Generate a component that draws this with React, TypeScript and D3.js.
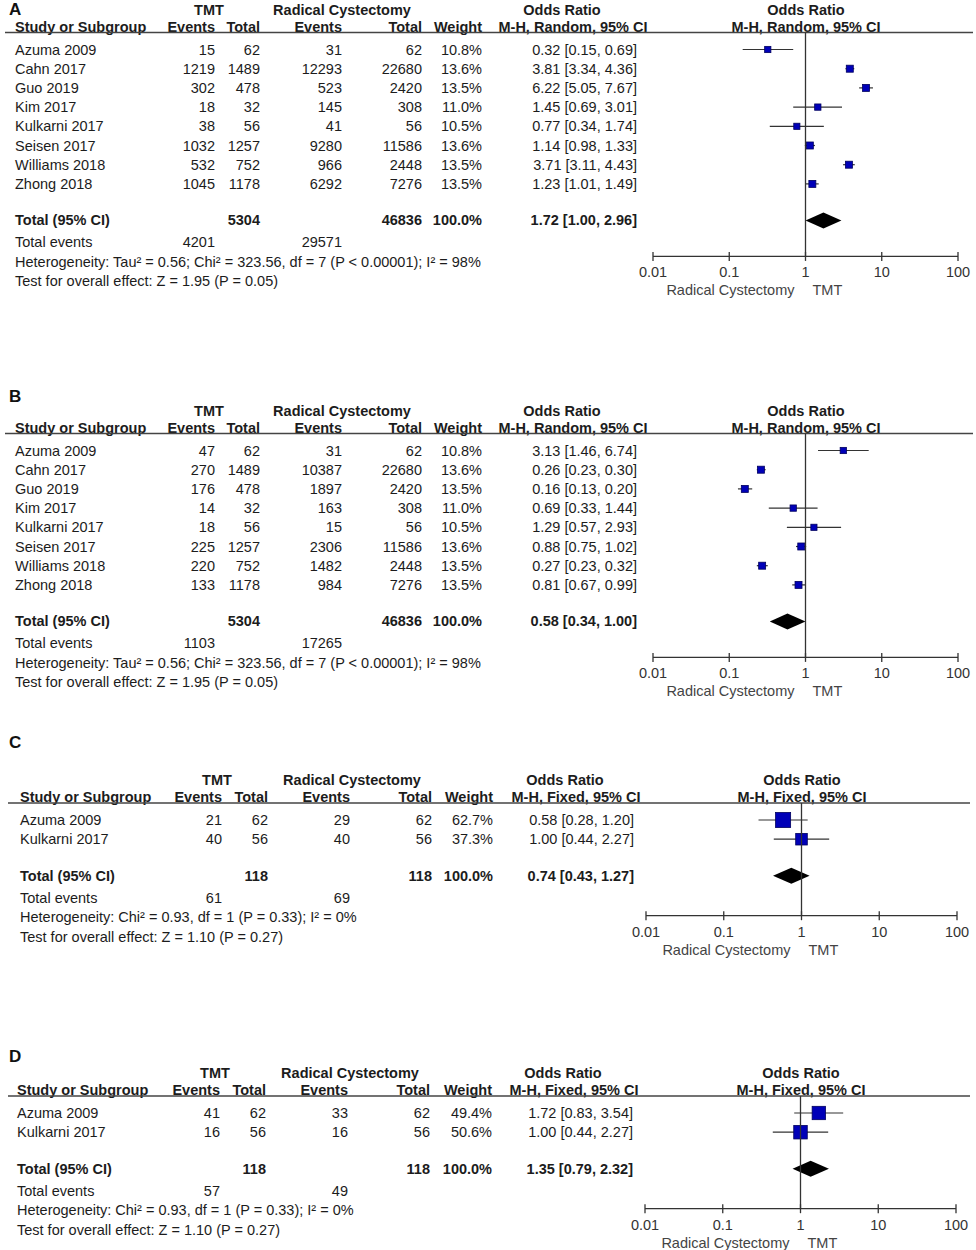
import React from 'react';
import * as d3 from 'd3';

// ---------- DATA ----------
const studiesAB = ["Azuma 2009", "Cahn 2017", "Guo 2019", "Kim 2017", "Kulkarni 2017", "Seisen 2017", "Williams 2018", "Zhong 2018"];
const tmtTotalAB = [62, 1489, 478, 32, 56, 1257, 752, 1178];
const rcTotalAB = [62, 22680, 2420, 308, 56, 11586, 2448, 7276];
const weightAB = [10.8, 13.6, 13.5, 11.0, 10.5, 13.6, 13.5, 13.5];

const tmtEventsA = [15, 1219, 302, 18, 38, 1032, 532, 1045];
const rcEventsA = [31, 12293, 523, 145, 41, 9280, 966, 6292];
const orA = [0.32, 3.81, 6.22, 1.45, 0.77, 1.14, 3.71, 1.23];
const loA = [0.15, 3.34, 5.05, 0.69, 0.34, 0.98, 3.11, 1.01];
const hiA = [0.69, 4.36, 7.67, 3.01, 1.74, 1.33, 4.43, 1.49];
const totalA = { tmt: 5304, rc: 46836, or: 1.72, lo: 1.00, hi: 2.96, tmtEv: 4201, rcEv: 29571 };

const tmtEventsB = [47, 270, 176, 14, 18, 225, 220, 133];
const rcEventsB = [31, 10387, 1897, 163, 15, 2306, 1482, 984];
const orB = [3.13, 0.26, 0.16, 0.69, 1.29, 0.88, 0.27, 0.81];
const loB = [1.46, 0.23, 0.13, 0.33, 0.57, 0.75, 0.23, 0.67];
const hiB = [6.74, 0.30, 0.20, 1.44, 2.93, 1.02, 0.32, 0.99];
const totalB = { tmt: 5304, rc: 46836, or: 0.58, lo: 0.34, hi: 1.00, tmtEv: 1103, rcEv: 17265 };

const studiesCD = ["Azuma 2009", "Kulkarni 2017"];
const tmtTotalCD = [62, 56];
const rcTotalCD = [62, 56];

const tmtEventsC = [21, 40];
const rcEventsC = [29, 40];
const weightC = [62.7, 37.3];
const orC = [0.58, 1.00];
const loC = [0.28, 0.44];
const hiC = [1.20, 2.27];
const totalC = { tmt: 118, rc: 118, or: 0.74, lo: 0.43, hi: 1.27, tmtEv: 61, rcEv: 69 };

const tmtEventsD = [41, 16];
const rcEventsD = [33, 16];
const weightD = [49.4, 50.6];
const orD = [1.72, 1.00];
const loD = [0.83, 0.44];
const hiD = [3.54, 2.27];
const totalD = { tmt: 118, rc: 118, or: 1.35, lo: 0.79, hi: 2.32, tmtEv: 57, rcEv: 49 };

const hetRandom = "Heterogeneity: Tau² = 0.56; Chi² = 323.56, df = 7 (P < 0.00001); I² = 98%";
const testRandom = "Test for overall effect: Z = 1.95 (P = 0.05)";
const hetFixed = "Heterogeneity: Chi² = 0.93, df = 1 (P = 0.33); I² = 0%";
const testFixed = "Test for overall effect: Z = 1.10 (P = 0.27)";
const methodRandom = "M-H, Random, 95% CI";
const methodFixed = "M-H, Fixed, 95% CI";

const tickValues = [0.01, 0.1, 1, 10, 100];
const tickLabels = ["0.01", "0.1", "1", "10", "100"];

// ---------- LAYOUT ----------
const layoutAB = { name: 15, te: 215, tt: 260, re: 342, rt: 422, w: 482, orc: 637, hTmt: 209, hRc: 342, hOr: 562, hCi: 573, hF: 806, fx0: 653, fx1: 958, lx0: 5, lx1: 973, axisOff: 36 };
const layoutC = { name: 20, te: 222, tt: 268, re: 350, rt: 432, w: 493, orc: 634, hTmt: 217, hRc: 352, hOr: 565, hCi: 576, hF: 802, fx0: 646, fx1: 957, lx0: 8, lx1: 970, axisOff: 40 };
const layoutD = { name: 17, te: 220, tt: 266, re: 348, rt: 430, w: 492, orc: 633, hTmt: 215, hRc: 350, hOr: 563, hCi: 574, hF: 801, fx0: 645, fx1: 956, lx0: 8, lx1: 970, axisOff: 40 };

const panels = [
  { label: "A", labelY: 15, line: 32.5, layout: layoutAB, method: methodRandom, studies: studiesAB, te: tmtEventsA, tt: tmtTotalAB, re: rcEventsA, rt: rcTotalAB, w: weightAB, or: orA, lo: loA, hi: hiA, total: totalA, het: hetRandom, test: testRandom },
  { label: "B", labelY: 402, line: 433.5, layout: layoutAB, method: methodRandom, studies: studiesAB, te: tmtEventsB, tt: tmtTotalAB, re: rcEventsB, rt: rcTotalAB, w: weightAB, or: orB, lo: loB, hi: hiB, total: totalB, het: hetRandom, test: testRandom },
  { label: "C", labelY: 748, line: 803, layout: layoutC, method: methodFixed, studies: studiesCD, te: tmtEventsC, tt: tmtTotalCD, re: rcEventsC, rt: rcTotalCD, w: weightC, or: orC, lo: loC, hi: hiC, total: totalC, het: hetFixed, test: testFixed },
  { label: "D", labelY: 1062, line: 1096, layout: layoutD, method: methodFixed, studies: studiesCD, te: tmtEventsD, tt: tmtTotalCD, re: rcEventsD, rt: rcTotalCD, w: weightD, or: orD, lo: loD, hi: hiD, total: totalD, het: hetFixed, test: testFixed },
];

const TXT = "#1c1c1c";
const FS = 14.5;
const ROW = 19.2;
const fmt2 = d3.format(".2f");
const ciText = (o: number, l: number, h: number) => `${fmt2(o)} [${fmt2(l)}, ${fmt2(h)}]`;

function Panel({ p }: { p: any }) {
  const L = p.layout;
  const x = d3.scaleLog().domain([0.01, 100]).range([L.fx0, L.fx1]);
  const hdrBase = p.line - 1;
  const topBase = p.line - 18;
  const rowBase = (i: number) => p.line + 22 + i * ROW;
  const lastBase = rowBase(p.studies.length - 1);
  const totBase = lastBase + 36.5;
  const totMid = totBase - 5;
  const axisY = totMid + L.axisOff;
  const T = (props: any) => <text fill={TXT} fontSize={FS} {...props} />;
  const R = (props: any) => <T textAnchor="end" {...props} />;
  const B = (props: any) => <T fontWeight="bold" {...props} />;
  const BR = (props: any) => <T fontWeight="bold" textAnchor="end" {...props} />;
  const BM = (props: any) => <T fontWeight="bold" textAnchor="middle" {...props} />;
  const diamondH = 8;
  const dPath = `M${x(p.total.lo)},${totMid} L${x(p.total.or)},${totMid - diamondH} L${x(p.total.hi)},${totMid} L${x(p.total.or)},${totMid + diamondH} Z`;
  return (
    <g>
      <text x={9} y={p.labelY} fontSize={17} fontWeight="bold" fill="#111">{p.label}</text>
      {/* top header row */}
      <BM x={L.hTmt} y={topBase}>TMT</BM>
      <BM x={L.hRc} y={topBase}>Radical Cystectomy</BM>
      <BM x={L.hOr} y={topBase}>Odds Ratio</BM>
      <BM x={L.hF} y={topBase}>Odds Ratio</BM>
      {/* second header row */}
      <B x={L.name} y={hdrBase}>Study or Subgroup</B>
      <BR x={L.te} y={hdrBase}>Events</BR>
      <BR x={L.tt} y={hdrBase}>Total</BR>
      <BR x={L.re} y={hdrBase}>Events</BR>
      <BR x={L.rt} y={hdrBase}>Total</BR>
      <BR x={L.w} y={hdrBase}>Weight</BR>
      <BM x={L.hCi} y={hdrBase}>{p.method}</BM>
      <BM x={L.hF} y={hdrBase}>{p.method}</BM>
      <line x1={L.lx0} x2={L.lx1} y1={p.line} y2={p.line} stroke="#444" strokeWidth={1.3} />
      {/* rows */}
      {p.studies.map((s: string, i: number) => {
        const yb = rowBase(i);
        const ym = yb - 5;
        const sz = 1.9 * Math.sqrt(p.w[i]);
        return (
          <g key={s}>
            <T x={L.name} y={yb}>{s}</T>
            <R x={L.te} y={yb}>{p.te[i]}</R>
            <R x={L.tt} y={yb}>{p.tt[i]}</R>
            <R x={L.re} y={yb}>{p.re[i]}</R>
            <R x={L.rt} y={yb}>{p.rt[i]}</R>
            <R x={L.w} y={yb}>{`${p.w[i].toFixed(1)}%`}</R>
            <R x={L.orc} y={yb}>{ciText(p.or[i], p.lo[i], p.hi[i])}</R>
            <line x1={x(p.lo[i])} x2={x(p.hi[i])} y1={ym} y2={ym} stroke="#333" strokeWidth={1.2} />
            <rect x={x(p.or[i]) - sz / 2} y={ym - sz / 2} width={sz} height={sz} fill="#0000b8" stroke="#00005e" strokeWidth={0.8} />
          </g>
        );
      })}
      {/* total */}
      <B x={L.name} y={totBase}>Total (95% CI)</B>
      <BR x={L.tt} y={totBase}>{p.total.tmt}</BR>
      <BR x={L.rt} y={totBase}>{p.total.rc}</BR>
      <BR x={L.w} y={totBase}>100.0%</BR>
      <BR x={L.orc} y={totBase}>{ciText(p.total.or, p.total.lo, p.total.hi)}</BR>
      <path d={dPath} fill="#000" />
      <T x={L.name} y={totBase + 22}>Total events</T>
      <R x={L.te} y={totBase + 22}>{p.total.tmtEv}</R>
      <R x={L.re} y={totBase + 22}>{p.total.rcEv}</R>
      <T x={L.name} y={totBase + 41.5}>{p.het}</T>
      <T x={L.name} y={totBase + 61}>{p.test}</T>
      {/* forest axis */}
      <line x1={x(1)} x2={x(1)} y1={p.line} y2={axisY} stroke="#333" strokeWidth={1.3} />
      <line x1={x(0.01)} x2={x(100)} y1={axisY} y2={axisY} stroke="#333" strokeWidth={1.3} />
      {tickValues.map((t, i) => (
        <g key={t}>
          <line x1={x(t)} x2={x(t)} y1={axisY - 4.5} y2={axisY + 4.5} stroke="#333" strokeWidth={1.3} />
          <T x={x(t)} y={axisY + 21} textAnchor="middle" fill="#333">{tickLabels[i]}</T>
        </g>
      ))}
      <T x={x(1) - 11} y={axisY + 39} textAnchor="end" fill="#444">Radical Cystectomy</T>
      <T x={x(1) + 7} y={axisY + 39} fill="#444">TMT</T>
    </g>
  );
}

export default function App() {
  return (
    <svg width={976} height={1250} style={{ position: 'absolute', left: 0, top: 0, background: '#fff' }}
      fontFamily="'Liberation Sans', Arial, Helvetica, sans-serif">
      <rect x={0} y={0} width={976} height={1250} fill="#fff" />
      {panels.map(p => <Panel key={p.label} p={p} />)}
    </svg>
  );
}
